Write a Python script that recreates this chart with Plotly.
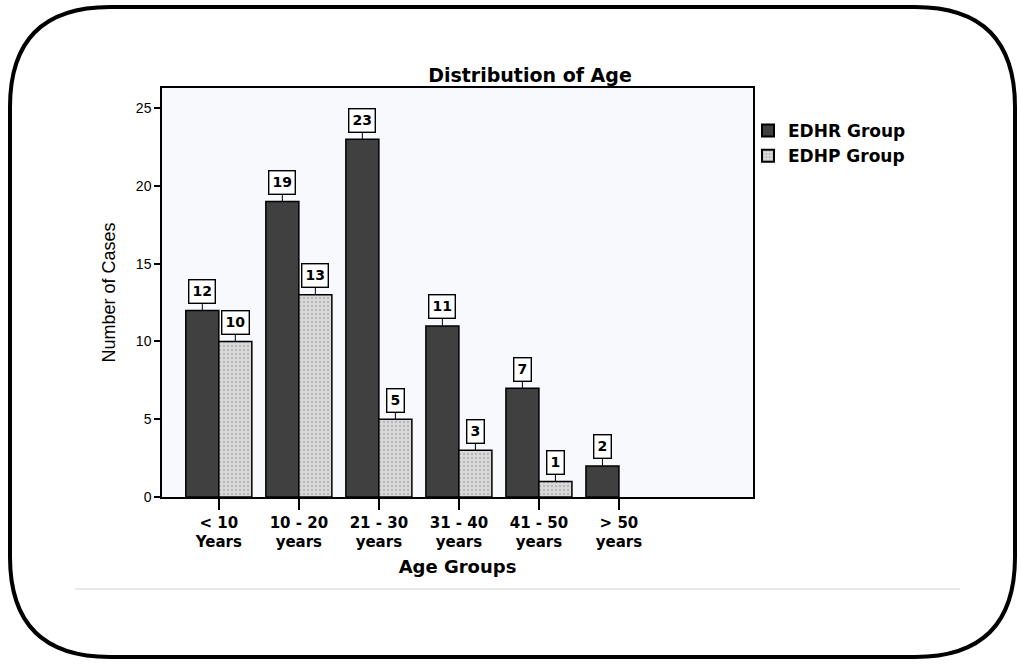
import plotly.graph_objects as go

categories = ["< 10<br>Years", "10 - 20<br>years", "21 - 30<br>years", "31 - 40<br>years", "41 - 50<br>years", "> 50<br>years"]
edhr = [12, 19, 23, 11, 7, 2]
edhp = [10, 13, 5, 3, 1, None]
series_names = ["EDHR Group", "EDHP Group"]
y_ticks = [0, 5, 10, 15, 20, 25]

W, H = 1021, 664
ML, MR, MT, MB = 162, 268, 88, 167
PW, PH = W - ML - MR, H - MT - MB
BARGAP = 0.175
bw = (1 - BARGAP) / 2

FONT = "Liberation Sans, Arial, sans-serif"
BOLD = "DejaVu Sans, Liberation Sans, Arial, sans-serif"

fig = go.Figure()
fig.add_trace(go.Bar(
    x=list(range(len(categories))), y=edhr, name=series_names[0],
    marker=dict(color="#404040", line=dict(color="#000000", width=1.5)),
))
fig.add_trace(go.Bar(
    x=list(range(len(categories))), y=edhp, name=series_names[1],
    marker=dict(color="#d8d8d8", line=dict(color="#000000", width=1.5),
                pattern=dict(shape=".", fgcolor="#808080", bgcolor="#d8d8d8", size=4, solidity=0.2)),
))

annotations = []
for vals, sign in ((edhr, -1), (edhp, 1)):
    for i, v in enumerate(vals):
        if v is None:
            continue
        annotations.append(dict(
            x=i + sign * bw / 2, y=v, xref="x", yref="y", text="<b>%d</b>" % v,
            showarrow=True, arrowhead=0, arrowwidth=1, arrowcolor="#000000",
            ax=0, ay=-19, bgcolor="#ffffff", bordercolor="#000000", borderwidth=1.4,
            borderpad=3, font=dict(family=BOLD, size=14, color="#000000"),
        ))

def px(x):
    return (x - ML) / PW

def py(y):
    return (H - MB - y) / PH

# rounded outer frame
L, R, T, B, r = 10, 1015, 7, 657, 100
path = (f"M {px(L+r)},{py(T)} L {px(R-r)},{py(T)} Q {px(R)},{py(T)} {px(R)},{py(T+r)} "
        f"L {px(R)},{py(B-r)} Q {px(R)},{py(B)} {px(R-r)},{py(B)} "
        f"L {px(L+r)},{py(B)} Q {px(L)},{py(B)} {px(L)},{py(B-r)} "
        f"L {px(L)},{py(T+r)} Q {px(L)},{py(T)} {px(L+r)},{py(T)} Z")

shapes = [
    dict(type="path", path=path, xref="paper", yref="paper",
         line=dict(color="#000000", width=4), layer="below"),
    dict(type="line", xref="paper", yref="paper", x0=px(75), x1=px(960), y0=py(589), y1=py(589),
         line=dict(color="#d4d4d4", width=1.2)),
]

fig.update_layout(
    width=W, height=H, margin=dict(l=ML, r=MR, t=MT, b=MB, autoexpand=False),
    paper_bgcolor="#ffffff", plot_bgcolor="#f7f9fd",
    barmode="group", bargap=BARGAP, bargroupgap=0,
    font=dict(family=FONT, color="#000000"),
    title=dict(text="<b>Distribution of Age</b>", x=530 / W, xanchor="center",
               y=1 - 75 / H, yanchor="middle", font=dict(family=BOLD, size=19)),
    xaxis=dict(range=[-0.71, 6.675], tickmode="array", tickvals=list(range(len(categories))),
               ticktext=["<b>%s</b>" % c for c in categories], ticks="outside", ticklen=11,
               tickwidth=1.5, tickcolor="#000000", tickfont=dict(family=BOLD, size=15), showgrid=False,
               zeroline=False, showline=True, linecolor="#000000", linewidth=1.5, mirror=True,
               title=dict(text="<b>Age Groups</b>", font=dict(family=BOLD, size=18), standoff=10)),
    yaxis=dict(range=[0, 26.3], tickvals=y_ticks, ticks="outside", ticklen=6,
               tickwidth=1.5, tickcolor="#000000", tickfont=dict(size=14), showgrid=False,
               zeroline=False, showline=True, linecolor="#000000", linewidth=1.5, mirror=True,
               title=dict(text="Number of Cases", font=dict(size=18), standoff=16)),
    legend=dict(x=px(748), y=py(113), xanchor="left", yanchor="top", bgcolor="rgba(0,0,0,0)",
                font=dict(family=BOLD, size=17, weight="bold"), tracegroupgap=0,
                itemsizing="constant", itemwidth=30),
    annotations=annotations, shapes=shapes, showlegend=True,
)
fig.update_traces(width=bw)
fig.data[0].update(offset=-bw)
fig.data[1].update(offset=0)

fig.write_html("out.html", config={"displayModeBar": False},
               post_script="document.body.style.margin='0px';")
